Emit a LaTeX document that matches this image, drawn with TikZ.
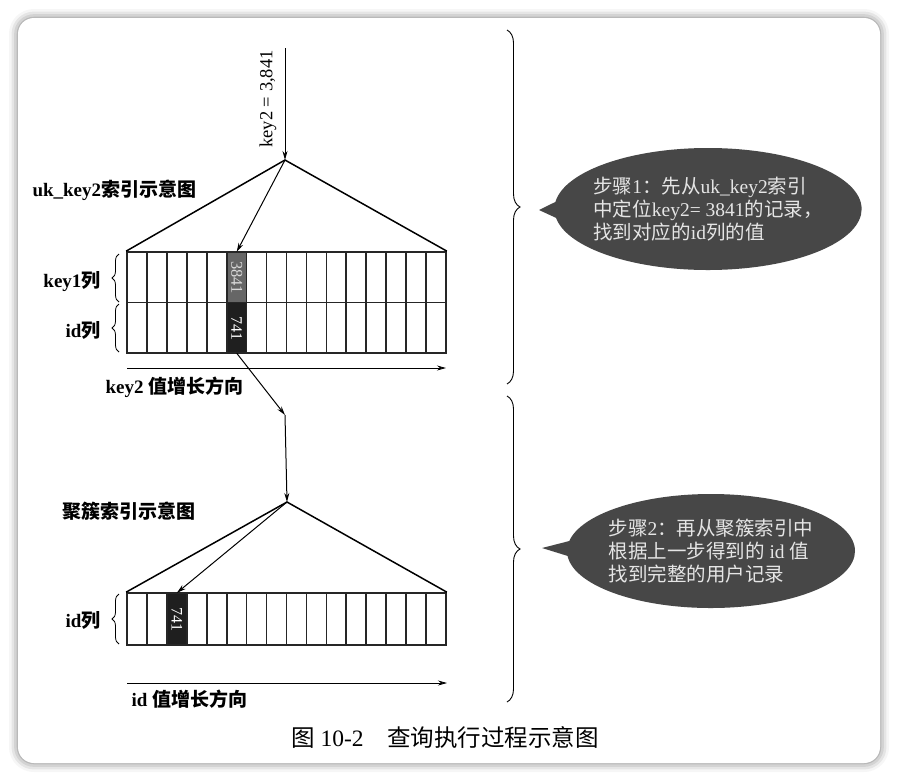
\documentclass[tikz,border=0pt]{standalone}
\usepackage{fontspec}
\setmainfont{Liberation Serif}
\newfontfamily\cjk{Noto Sans CJK SC}
\newcommand\zh[1]{{\cjk #1}}
\usetikzlibrary{arrows.meta,shapes.callouts,decorations.pathreplacing,shadows.blur}
\tikzset{
  tabline/.style={line width=1.7pt, draw=black!85},
  hlcell/.style={minimum width=19.94pt, inner sep=0pt, text=white},
  stepnote/.style={ellipse callout, fill=black!72, text=black!10, inner xsep=-6pt, inner ysep=0pt,
    align=left, font=\fontsize{19.5}{23}\selectfont},
  lbl/.style={font=\bfseries\fontsize{19}{21}\selectfont},
  bracel/.style={decorate, decoration={brace, amplitude=7pt}, line width=0.8pt},
  bracer/.style={decorate, decoration={brace, amplitude=13pt}, line width=0.9pt},
}

\begin{document}
\begin{tikzpicture}[x=1pt, y=-1pt, >={Stealth[length=9pt,width=5pt]}]
    \useasboundingbox (0,0) rectangle (899,782);
    \fill[white, rounded corners=16pt, blur shadow={shadow xshift=0pt, shadow yshift=0pt,
      shadow blur radius=9pt, shadow opacity=55}] (18,18) rectangle (880,763);

    % uk_key2 index
    \node[hlcell, fill=black!60, minimum height=51pt, text=black!15,
      font=\fontsize{16.5}{16.5}\selectfont] (hl3841) at (236.7,277.5) {\rotatebox{-90}{3841}};
    \node[hlcell, fill=black!88, minimum height=50pt,
      font=\fontsize{16}{16}\selectfont] (hl741) at (236.7,328) {\rotatebox{-90}{741}};
    \node[tabline, draw, minimum width=319pt, minimum height=101pt, inner sep=0pt] (uktab) at (286.5,302.5) {};
    \draw[tabline] (uktab.west) -- (uktab.east);
    \foreach \i in {1,...,15}
        \draw[tabline] (127+\i*19.94,252) -- (127+\i*19.94,353);

    \coordinate (ukin) at (285,48);
    \coordinate (ukapex) at (285,160);
    \node[rotate=90, font=\fontsize{18.5}{18.5}\selectfont] (keylbl) at (268,99) {key2 = 3,841};
    \draw[->, line width=1pt] (ukin) -- (ukapex);
    \draw[line width=1.5pt] (uktab.north west) -- (ukapex) -- (uktab.north east);
    \draw[->, line width=1pt] (ukapex) -- (hl3841.north);

    \node[lbl, anchor=west] (uklbl) at (29,190) {uk\_key2\zh{索引示意图}};
    \node[lbl, anchor=east] (k1lbl) at (104,282) {key1\zh{列}};
    \node[lbl, anchor=east] (idlbl) at (104,330) {id\zh{列}};
    \draw[bracel] (119,302) -- (119,254);
    \draw[bracel] (119,352) -- (119,304);

    \coordinate (ukdirA) at (127,368);
    \coordinate (ukdirB) at (446,368);
    \draw[->, line width=0.8pt] (ukdirA) -- (ukdirB);
    \node[lbl, anchor=west] (ukdir) at (102,387) {key2 \zh{值增长方向}};

    % clustered index
    \coordinate (bend) at (285,415);
    \coordinate (ckapex) at (287,502);
    \draw[->, line width=1pt] (hl741.south) -- (bend);
    \draw[->, line width=1pt] (bend) -- (ckapex);

    \node[hlcell, fill=black!88, minimum height=52pt,
      font=\fontsize{16}{16}\selectfont] (hl741b) at (176.9,619) {\rotatebox{-90}{741}};
    \node[tabline, draw, minimum width=319pt, minimum height=52pt, inner sep=0pt] (cktab) at (286.5,619) {};
    \foreach \i in {1,...,15}
        \draw[tabline] (127+\i*19.94,593) -- (127+\i*19.94,645);
    \draw[line width=1.5pt] (cktab.north west) -- (ckapex) -- (cktab.north east);
    \draw[->, line width=1pt] (ckapex) -- (hl741b.north);

    \node[lbl, anchor=west] (cklbl) at (59,511) {\zh{聚簇索引示意图}};
    \node[lbl, anchor=east] (idlbl2) at (104,620) {id\zh{列}};
    \draw[bracel] (119,644) -- (119,594);

    \coordinate (ckdirA) at (127,683);
    \coordinate (ckdirB) at (447,683);
    \draw[->, line width=0.8pt] (ckdirA) -- (ckdirB);
    \node[lbl, anchor=west] (ckdir) at (128,699) {id \zh{值增长方向}};

    % steps
    \draw[bracer] (507,30) -- (507,384);
    \draw[bracer] (507,396) -- (507,702);
    \coordinate (tip1) at (539,210);
    \coordinate (tip2) at (542,548);
    \node[stepnote, minimum width=290pt, minimum height=122pt,
      callout absolute pointer={(tip1)}] (step1) at (708,209)
      {\zh{步骤}1\zh{：先从}uk\_key2\zh{索引}\\
       \zh{中定位}key2= 3841\zh{的记录，}\\
       \zh{找到对应的}id\zh{列的值}};
    \node[stepnote, minimum width=288pt, minimum height=114pt,
      callout absolute pointer={(tip2)}] (step2) at (711,551)
      {\zh{步骤}2\zh{：再从聚簇索引中}\\
       \zh{根据上一步得到的} id \zh{值}\\
       \zh{找到完整的用户记录}};

    \node[font=\fontsize{23.5}{23.5}\selectfont] (cap) at (445,737)
      {\zh{图} 10-2\hspace{1em}\zh{查询执行过程示意图}};
\end{tikzpicture}
\end{document}
